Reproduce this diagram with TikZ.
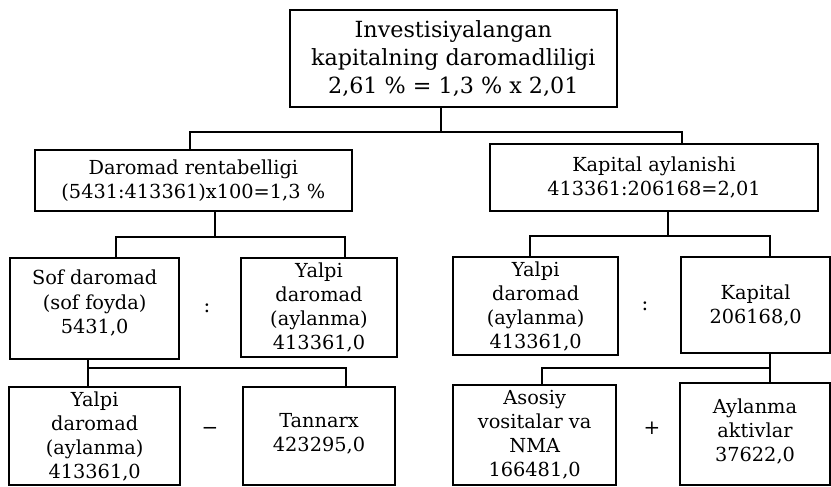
\documentclass[tikz,border=0pt]{standalone}
\usepackage{fontspec}
\setmainfont{DejaVu Serif}
\begin{document}
\begin{tikzpicture}[
	box/.style={draw, line width=1.2pt, align=center, inner sep=0pt, font=\fontsize{16.5}{20.5}\selectfont},
	op/.style={font=\fontsize{17}{20.5}\selectfont},
	link/.style={line width=1.2pt}]
		\useasboundingbox (0,0) rectangle (24.93,-14.61);
		% first and second rows
		\node[box, minimum width=9.81cm, minimum height=2.91cm, font=\fontsize{19}{24}\selectfont] (inv) at (13.6,-1.76) {Investisiyalangan\\kapitalning daromadliligi\\2,61 \% = 1,3 \% x 2,01};
		\node[box, minimum width=9.51cm, minimum height=1.83cm] (rent) at (5.8,-5.42) {Daromad rentabelligi\\(5431:413361)x100=1,3 \%};
		\node[box, minimum width=9.84cm, minimum height=2.01cm] (ayl) at (19.62,-5.33) {Kapital aylanishi\\413361:206168=2,01};
		% third row
		\node[box, minimum width=5.07cm, minimum height=3.03cm] (sof) at (2.84,-9.26) {Sof daromad\\(sof foyda)\\5431,0\\[-0.3cm]};
		\node[box, minimum width=4.68cm, minimum height=2.97cm] (yalpia) at (9.57,-9.23) {Yalpi\\daromad\\(aylanma)\\413361,0};
		\node[box, minimum width=4.95cm, minimum height=2.94cm] (yalpib) at (16.07,-9.18) {Yalpi\\daromad\\(aylanma)\\413361,0};
		\node[box, minimum width=4.47cm, minimum height=2.88cm] (kap) at (22.67,-9.15) {Kapital\\206168,0};
		\node[op] (d1) at (6.21,-9.24) {:};
		\node[op] (d2) at (19.35,-9.18) {:};
		% fourth row
		\node[box, minimum width=5.13cm, minimum height=2.94cm] (yalpic) at (2.84,-13.08) {Yalpi\\daromad\\(aylanma)\\413361,0};
		\node[box, minimum width=4.56cm, minimum height=2.94cm] (tann) at (9.57,-13.08) {Tannarx\\423295,0\\[-0.48cm]};
		\node[box, minimum width=4.89cm, minimum height=3.0cm] (asos) at (16.04,-13.05) {Asosiy\\vositalar va\\NMA\\166481,0};
		\node[box, minimum width=4.5cm, minimum height=3.06cm] (akt) at (22.65,-13.02) {Aylanma\\aktivlar\\37622,0\\[-0.48cm]};
		\node[op] (m1) at (6.3,-12.93) {−};
		\node[op] (p1) at (19.56,-12.84) {+};
		% connectors
		\draw[link] ([xshift=-0.37cm]inv.south) -- ++(0,-0.72) coordinate (j1);
		\draw[link] ([xshift=-0.1cm]rent.north) |- (j1) -| ([xshift=0.84cm]ayl.north);
		\draw[link] ([xshift=0.65cm]rent.south) -- ++(0,-0.75) coordinate (j2);
		\draw[link] ([xshift=0.64cm]sof.north) |- (j2) -| ([xshift=0.78cm]yalpia.north);
		\draw[link] ([xshift=0.42cm]ayl.south) -- ++(0,-0.72) coordinate (j3);
		\draw[link] ([xshift=-0.17cm]yalpib.north) |- (j3) -| ([xshift=0.43cm]kap.north);
		\draw[link] ([xshift=-0.2cm]sof.south) -- ([xshift=-0.2cm]yalpic.north);
		\draw[link] ([xshift=-0.2cm,yshift=-0.24cm]sof.south) coordinate (j4) -| ([xshift=0.81cm]tann.north);
		\draw[link] ([xshift=0.43cm]kap.south) -- ([xshift=0.45cm]akt.north);
		\draw[link] ([xshift=0.43cm,yshift=-0.43cm]kap.south) coordinate (j5) -| ([xshift=0.22cm]asos.north);
	\end{tikzpicture}
\end{document}
